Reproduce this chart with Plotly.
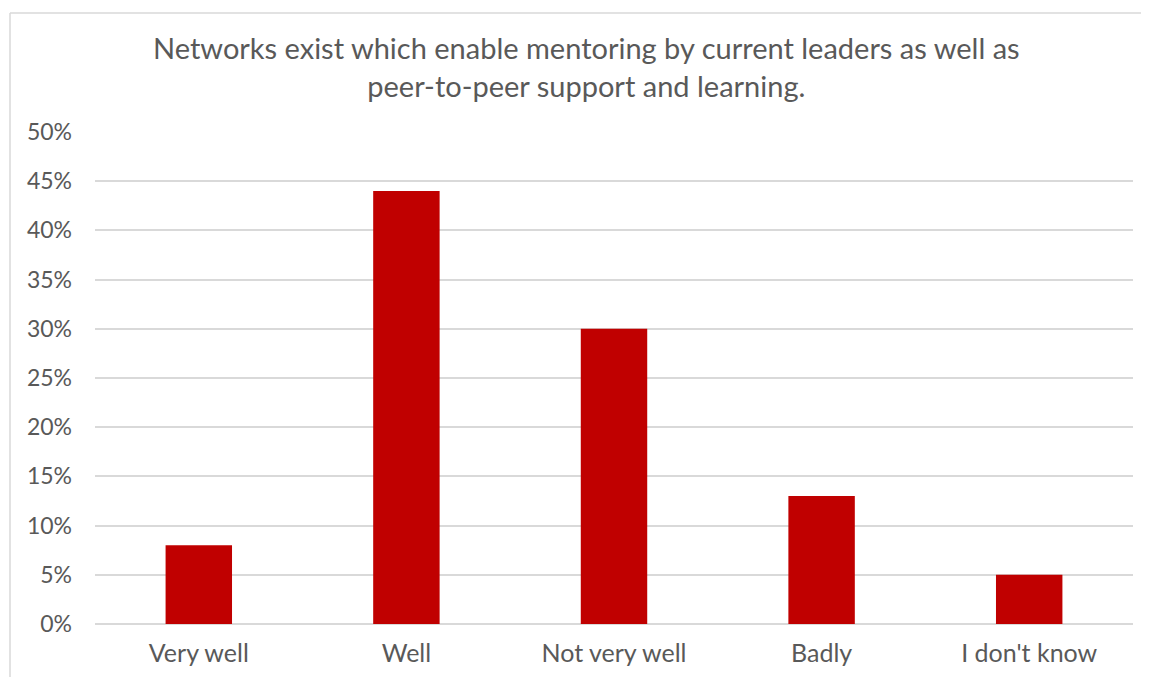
import plotly.graph_objects as go

# survey answers and share of respondents
categories = ["Very well", "Well", "Not very well", "Badly", "I don't know"]
shares = [0.08, 0.44, 0.30, 0.13, 0.05]
tick_vals = [0, 0.05, 0.10, 0.15, 0.20, 0.25, 0.30, 0.35, 0.40, 0.45, 0.50]
tick_text = ["0%", "5%", "10%", "15%", "20%", "25%", "30%", "35%", "40%", "45%", "50%"]

TITLE = ("Networks exist which enable mentoring by current leaders as well as<br>"
         "peer-to-peer support and learning.")

RED = "#C00000"
GREY_TEXT = "#595959"
GRID = "#D9D9D9"
FONT = "Lato, 'Open Sans', sans-serif"

# page has an 8px body margin, so the figure is a bit smaller than the window
W, H = 1141, 669
L, R, T, B = 87, 16, 124, 53
PW, PH = W - L - R, H - T - B

fig = go.Figure()
fig.add_trace(go.Bar(
    x=categories,
    y=shares,
    marker=dict(color=RED, line=dict(width=0)),
    hovertemplate='%{x}: %{y:.0%}<extra></extra>',
))

fig.update_layout(
    width=W,
    height=H,
    margin=dict(l=L, r=R, t=T, b=B),
    bargap=0.68,
    showlegend=False,
    paper_bgcolor='white',
    plot_bgcolor='white',
    font=dict(family=FONT, color=GREY_TEXT),
    xaxis=dict(
        showgrid=False,
        showline=False,
        zeroline=False,
        ticks='',
        automargin=False,
        tickfont=dict(size=25, color=GREY_TEXT),
        ticklabelstandoff=12,
    ),
    yaxis=dict(
        range=[0, 0.5],
        tickvals=tick_vals,
        ticktext=tick_text,
        showgrid=True,
        gridcolor=GRID,
        gridwidth=1.5,
        zeroline=True,
        zerolinecolor=GRID,
        zerolinewidth=1.5,
        showline=False,
        automargin=False,
        tickfont=dict(size=23, color=GREY_TEXT),
        ticklabelstandoff=22,
    ),
    annotations=[dict(
        text=TITLE,
        x=(578 - L) / PW, xref='paper',
        y=(H - B - 58) / PH, yref='paper',
        yanchor='middle',
        showarrow=False,
        font=dict(size=29, color=GREY_TEXT),
        align='center',
    )],
    shapes=[
        # light frame around the chart, as in the original export
        dict(type='line', xref='paper', yref='paper',
             x0=(2 - L) / PW, x1=(W - L) / PW,
             y0=(H - B - 5) / PH, y1=(H - B - 5) / PH,
             line=dict(color=GRID, width=1.5)),
        dict(type='line', xref='paper', yref='paper',
             x0=(2 - L) / PW, x1=(2 - L) / PW,
             y0=(H - B - 5) / PH, y1=-B / PH,
             line=dict(color=GRID, width=1.5)),
    ],
)

fig.write_html("out.html")
